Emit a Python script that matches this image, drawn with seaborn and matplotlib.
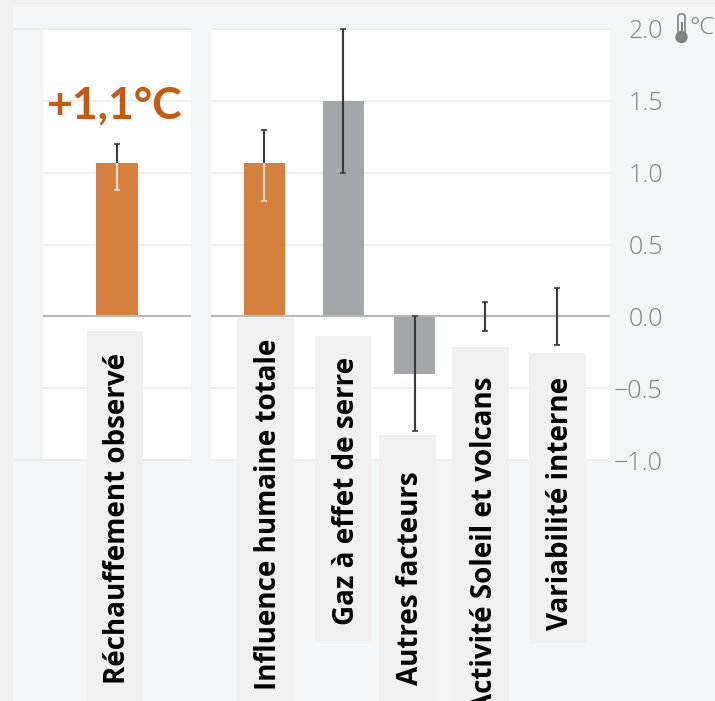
import matplotlib
matplotlib.use('Agg')
import matplotlib.pyplot as plt
from matplotlib.patches import Rectangle, Circle, FancyBboxPatch
import seaborn as sns

# Donnees
obs_cat = ['Réchauffement observé']
obs_val = [1.07]
obs_low = [0.88]
obs_high = [1.2]

cats = ['Influence humaine totale', 'Gaz à effet de serre', 'Autres facteurs',
        'Activité Soleil et volcans', 'Variabilité interne']
vals = [1.07, 1.5, -0.4, 0.0, 0.0]
low = [0.8, 1.0, -0.8, -0.1, -0.2]
high = [1.3, 2.0, 0.0, 0.1, 0.2]
yticks = [2.0, 1.5, 1.0, 0.5, 0.0, -0.5, -1.0]
ytick_labels = ['2.0', '1.5', '1.0', '0.5', '0.0', '\u22120.5', '\u22121.0']
headline = '+1,1°C'
unit = '°C'

# Mise en page (pixels de l'image)
W, H = 715, 701
slots = [0, 1.08, 2.06, 3.02, 4]  # les barres ne sont pas tout a fait regulieres
BG = '#f4f5f7'
STRIP = '#f0f0f0'
BOX = '#f0f0f0'
GRID = '#ebebeb'
ZERO = '#b9b9b9'
ORANGE = '#d68040'
GREY = '#a3a7aa'
TICK = '#808080'
DARK = '#3a3a3a'
LIGHT = '#f3e3d6'
# x0, x1, y0, y1 du fond, centre du texte, bas du texte
label_boxes = [
    (87, 143, 331, 701, 118, 684),
    (237, 294, 318, 701, 268, 690),
    (315, 371, 336, 641, 346, 625),
    (379, 436, 435, 701, 411, 685),
    (452, 509, 347, 701, 485, 712),
    (529, 586, 353, 643, 561, 630),
]

sns.set_theme(style='white')
plt.rcParams['font.family'] = ['Open Sans', 'DejaVu Sans']

fig = plt.figure(figsize=(W / 100, H / 100), dpi=100, facecolor=BG)


def px_axes(x0, x1, y0, y1):
    return fig.add_axes([x0 / W, 1 - y1 / H, (x1 - x0) / W, (y1 - y0) / H])


def px_rect(x0, x1, y0, y1, color, zorder=1):
    fig.add_artist(Rectangle((x0 / W, 1 - y1 / H), (x1 - x0) / W, (y1 - y0) / H,
                             transform=fig.transFigure, color=color, lw=0, zorder=zorder))


def draw_panel(ax, vlist, lowlist, highlist, xs):
    # haut de la barre : trait sombre ; dans les barres orange : trait clair
    for x, v, lo, hi in zip(xs, vlist, lowlist, highlist):
        if v > 0 and lo < v and v < 1.2:
            ax.vlines(x, lo, v, color=LIGHT, lw=1.5, zorder=5)
            ax.vlines(x, v, hi, color=DARK, lw=1.5, zorder=5)
            ax.plot([x], [lo], marker='_', ms=4, mew=1.2, color=LIGHT, zorder=5)
        else:
            ax.vlines(x, lo, hi, color=DARK, lw=1.5, zorder=5)
            ax.plot([x], [lo], marker='_', ms=4, mew=1.2, color=DARK, zorder=5, clip_on=False)
        ax.plot([x], [hi], marker='_', ms=4, mew=1.2, color=DARK, zorder=5, clip_on=False)
    ax.set_ylim(-1, 2)
    ax.set_xlabel('')
    ax.set_ylabel('')
    ax.set_xticks([])
    for s in ax.spines.values():
        s.set_visible(False)
    for t in yticks:
        if t == 0:
            ax.axhline(t, color=ZERO, lw=1.5, zorder=3)
        else:
            ax.axhline(t, color=GRID, lw=1.1, zorder=0, clip_on=False)


# Panneau gauche
ax1 = px_axes(43, 191, 29, 460)
sns.barplot(x=obs_cat, y=obs_val, color=ORANGE, saturation=1, width=0.56, errorbar=None, linewidth=0, ax=ax1, zorder=2)
ax1.set_xlim(-1.01, 1.01)
draw_panel(ax1, obs_val, obs_low, obs_high, [0])
ax1.set_yticks([])
ax1.axhline(2.0, xmin=-30 / 148, xmax=1, color=GRID, lw=1.5, clip_on=False)
ax1.axhline(-1.0, xmin=-30 / 148, xmax=1, color=GRID, lw=1.5, clip_on=False)

# Panneau droit
ax2 = px_axes(211, 610, 29, 460)
palette = dict(zip(cats, [ORANGE, GREY, GREY, GREY, GREY]))
sns.barplot(x=slots, y=vals, hue=cats, palette=palette, saturation=1, width=0.583, native_scale=True,
            dodge=False, legend=False, errorbar=None, linewidth=0, ax=ax2, zorder=2)
ax2.set_xlim(-0.7236, 4.7236)
draw_panel(ax2, vals, low, high, slots)
ax2.yaxis.tick_right()
ax2.set_yticks(yticks)
ax2.set_yticklabels(ytick_labels, color=TICK, fontsize=18, fontweight='light', ha='right')
ax2.tick_params(axis='y', length=0, pad=38)

# Bandes du bord de la capture
px_rect(0, W, 0, 7, STRIP, zorder=0.5)
px_rect(0, 13, 0, H, STRIP, zorder=0.5)

# Etiquettes verticales sur fond gris
for cat, (x0, x1, y0, y1, xc, yb) in zip(obs_cat + cats, label_boxes):
    px_rect(x0, x1, y0, y1, BOX, zorder=2)
    fig.text(xc / W, 1 - yb / H, cat, rotation=90, ha='center', va='bottom', fontsize=20,
             fontweight='bold', color='black', zorder=3)

fig.text(114.5 / W, 1 - 106 / H, headline, ha='center', va='center', fontsize=32, fontweight='bold',
         family=['Lato', 'DejaVu Sans'], color='#c55a11', zorder=3)

# Unite et thermometre
fig.text(689 / W, 1 - 28 / H, unit, ha='left', va='center', fontsize=17.5, fontweight='light', color=TICK, zorder=3)
fig.add_artist(FancyBboxPatch((678 / W, 1 - 38 / H), 7 / W, 24 / H, boxstyle='round,pad=0,rounding_size=0.004',
                              transform=fig.transFigure, fc='none', ec=TICK, lw=1.2, zorder=3))
fig.add_artist(Rectangle((680.5 / W, 1 - 38 / H), 2 / W, 16 / H, transform=fig.transFigure, color=TICK, lw=0, zorder=3))
fig.add_artist(Circle((681.5, H - 37), 6.2, transform=None, fc=TICK, ec='none', zorder=3))

fig.savefig('out.png', dpi=100, facecolor=BG)
